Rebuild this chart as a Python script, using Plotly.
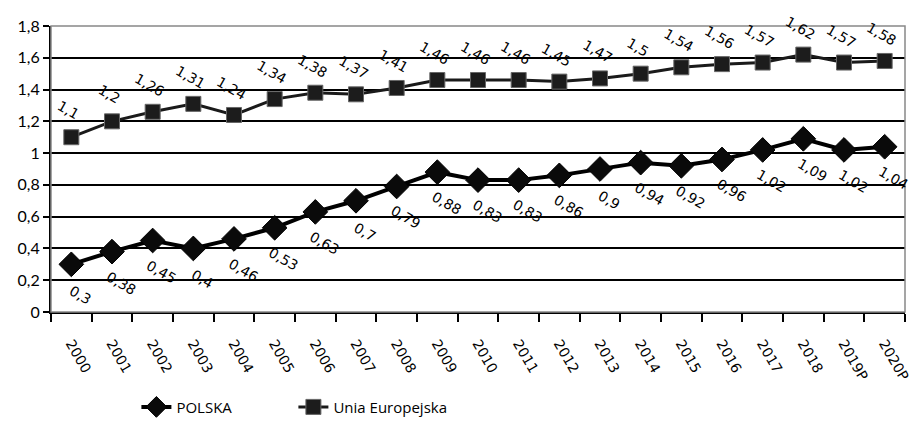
import plotly.graph_objects as go

years = ["2000", "2001", "2002", "2003", "2004", "2005", "2006", "2007", "2008",
         "2009", "2010", "2011", "2012", "2013", "2014", "2015", "2016", "2017",
         "2018", "2019P", "2020P"]
polska = [0.3, 0.38, 0.45, 0.4, 0.46, 0.53, 0.63, 0.7, 0.79, 0.88, 0.83, 0.83,
          0.86, 0.9, 0.94, 0.92, 0.96, 1.02, 1.09, 1.02, 1.04]
unia = [1.1, 1.2, 1.26, 1.31, 1.24, 1.34, 1.38, 1.37, 1.41, 1.46, 1.46, 1.46,
        1.45, 1.47, 1.5, 1.54, 1.56, 1.57, 1.62, 1.57, 1.58]
y_ticks = [0, 0.2, 0.4, 0.6, 0.8, 1.0, 1.2, 1.4, 1.6, 1.8]


def pl(v):
    return f"{v:g}".replace(".", ",")


fig = go.Figure()
fig.add_trace(go.Scatter(
    x=years, y=polska, name="POLSKA", mode="lines+markers",
    line=dict(color="#000000", width=4),
    marker=dict(symbol="diamond", size=19, color="#0a0a0a",
                line=dict(color="#000000", width=1)),
))
fig.add_trace(go.Scatter(
    x=years, y=unia, name="Unia Europejska", mode="lines+markers",
    line=dict(color="#1a1a1a", width=3),
    marker=dict(symbol="square", size=15, color="#1c1c1c",
                line=dict(color="#666666", width=1)),
))

# value labels, tilted like the axis labels; x is the category index
annotations = []
label_font = dict(family="DejaVu Sans", size=14, color="#000")
for i, v in enumerate(polska):
    annotations.append(dict(x=i, y=v, xref="x", yref="y", text=pl(v),
                            showarrow=False, textangle=30,
                            xshift=9, yshift=-31, font=label_font))
for i, v in enumerate(unia):
    annotations.append(dict(x=i, y=v, xref="x", yref="y", text=pl(v),
                            showarrow=False, textangle=30,
                            xshift=-3, yshift=27, font=label_font))

fig.update_layout(
    width=920, height=425,
    margin=dict(l=51, r=15, t=26, b=113, autoexpand=False),
    paper_bgcolor="white", plot_bgcolor="white",
    separators=", ",
    font=dict(family="Lato", size=15, color="#000"),
    annotations=annotations,
    showlegend=True,
    legend=dict(orientation="h", x=0.1, xanchor="left",
                yref="container", y=0.042, yanchor="middle",
                font=dict(family="Open Sans", size=15), itemwidth=30,
                entrywidth=112, traceorder="normal", borderwidth=0),
    shapes=[dict(type="rect", xref="paper", yref="paper", x0=0, x1=1, y0=0, y1=1,
                 line=dict(color="#888888", width=1.5), layer="above")],
)
fig.update_xaxes(
    type="category", range=[-0.5, 20.5], tickson="boundaries",
    ticks="outside", ticklen=8, tickwidth=1.5, tickcolor="#000",
    showline=True, linecolor="#000", linewidth=2,
    showgrid=False, tickangle=60, ticklabelstandoff=16, automargin=False,
    tickfont=dict(family="DejaVu Sans", size=14),
)
fig.update_yaxes(
    range=[0, 1.8], tickvals=y_ticks, automargin=False,
    ticks="outside", ticklen=6, tickwidth=1.5, tickcolor="#000",
    showline=True, linecolor="#000", linewidth=2,
    showgrid=True, gridcolor="#000", gridwidth=1.5, zeroline=False,
    tickfont=dict(family="Lato", size=16),
)

fig.write_html("out.html")
